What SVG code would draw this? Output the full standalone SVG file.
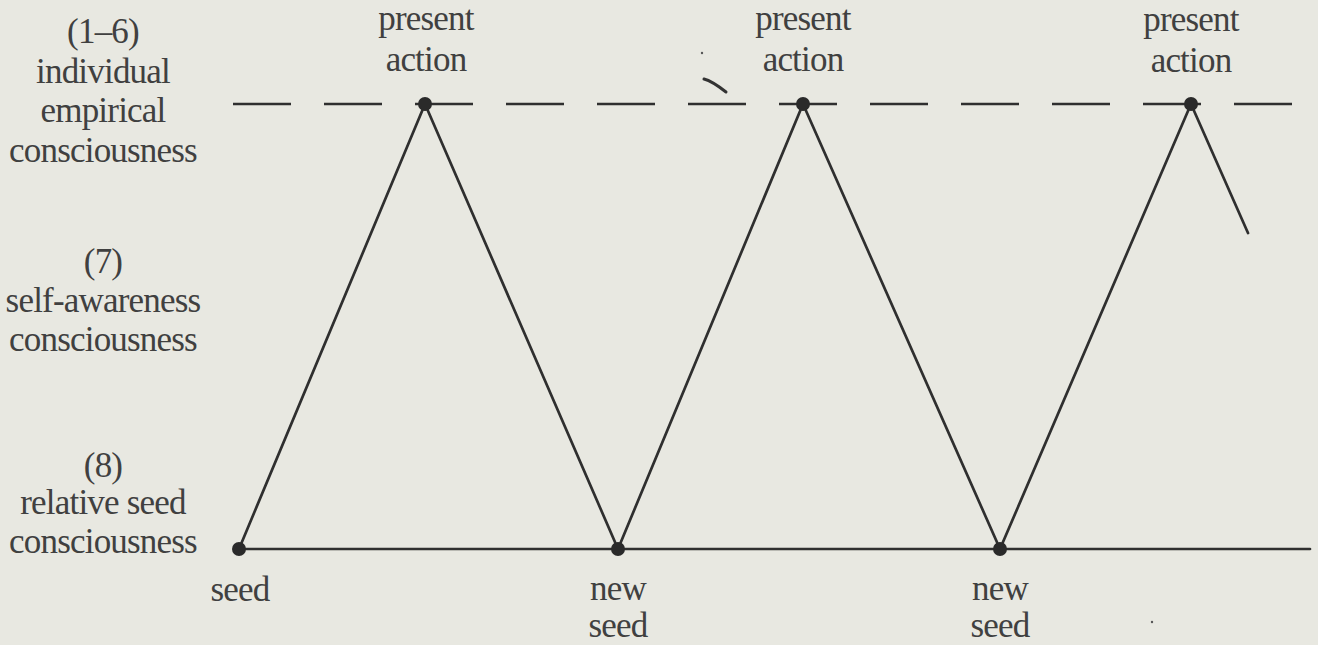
<svg xmlns="http://www.w3.org/2000/svg" width="1318" height="645" viewBox="0 0 1318 645">
<style>
text{font-family:"Liberation Serif","Times New Roman",serif;font-size:35px;fill:#404040;text-anchor:middle;letter-spacing:-0.8px}
.ln{stroke:#2f2f2f;stroke-width:2.7;fill:none;stroke-linecap:round;stroke-linejoin:round}
.dash{stroke:#2f2f2f;stroke-width:2.7;fill:none;stroke-dasharray:58 33}
.dot{fill:#2a2a2a}
</style>
<rect width="1318" height="645" fill="#e8e8e1"/>
<g id="level-1-6">
<text x="103" y="43">(1–6)</text>
<text x="103" y="83">individual</text>
<text x="103" y="122">empirical</text>
<text x="103" y="162">consciousness</text>
</g>
<g id="level-7">
<text x="103" y="273">(7)</text>
<text x="103" y="312">self-awareness</text>
<text x="103" y="351">consciousness</text>
</g>
<g id="level-8">
<text x="103" y="477">(8)</text>
<text x="103" y="514">relative seed</text>
<text x="103" y="553">consciousness</text>
</g>
<g id="connectors">
<line class="dash" x1="233" y1="104" x2="1292" y2="104"/>
<line class="ln" x1="239" y1="549" x2="1310" y2="549"/>
<polyline class="ln" points="239,549 425,104 618,549 803,104 1000,549 1191,104 1248,233"/>
</g>
<g id="seed">
<circle class="dot" cx="239" cy="549" r="7"/>
<text x="240" y="601">seed</text>
</g>
<g id="action-1">
<circle class="dot" cx="425" cy="104" r="7"/>
<text x="426" y="30">present</text>
<text x="426" y="71">action</text>
</g>
<g id="new-seed-1">
<circle class="dot" cx="618" cy="549" r="7"/>
<text x="618" y="600">new</text>
<text x="618" y="637">seed</text>
</g>
<g id="action-2">
<circle class="dot" cx="803" cy="104" r="7"/>
<text x="803" y="30">present</text>
<text x="803" y="71">action</text>
</g>
<g id="new-seed-2">
<circle class="dot" cx="1000" cy="549" r="7"/>
<text x="1000" y="600">new</text>
<text x="1000" y="637">seed</text>
</g>
<g id="action-3">
<circle class="dot" cx="1191" cy="104" r="7"/>
<text x="1191" y="31">present</text>
<text x="1191" y="72">action</text>
</g>
<g id="marks">
<path d="M704,79 Q712,81 726,92" stroke="#333" stroke-width="3" fill="none" stroke-linecap="round"/>
<circle cx="702" cy="53" r="1.2" fill="#555"/>
<circle cx="1152" cy="622" r="1.2" fill="#555"/>
</g>
</svg>
